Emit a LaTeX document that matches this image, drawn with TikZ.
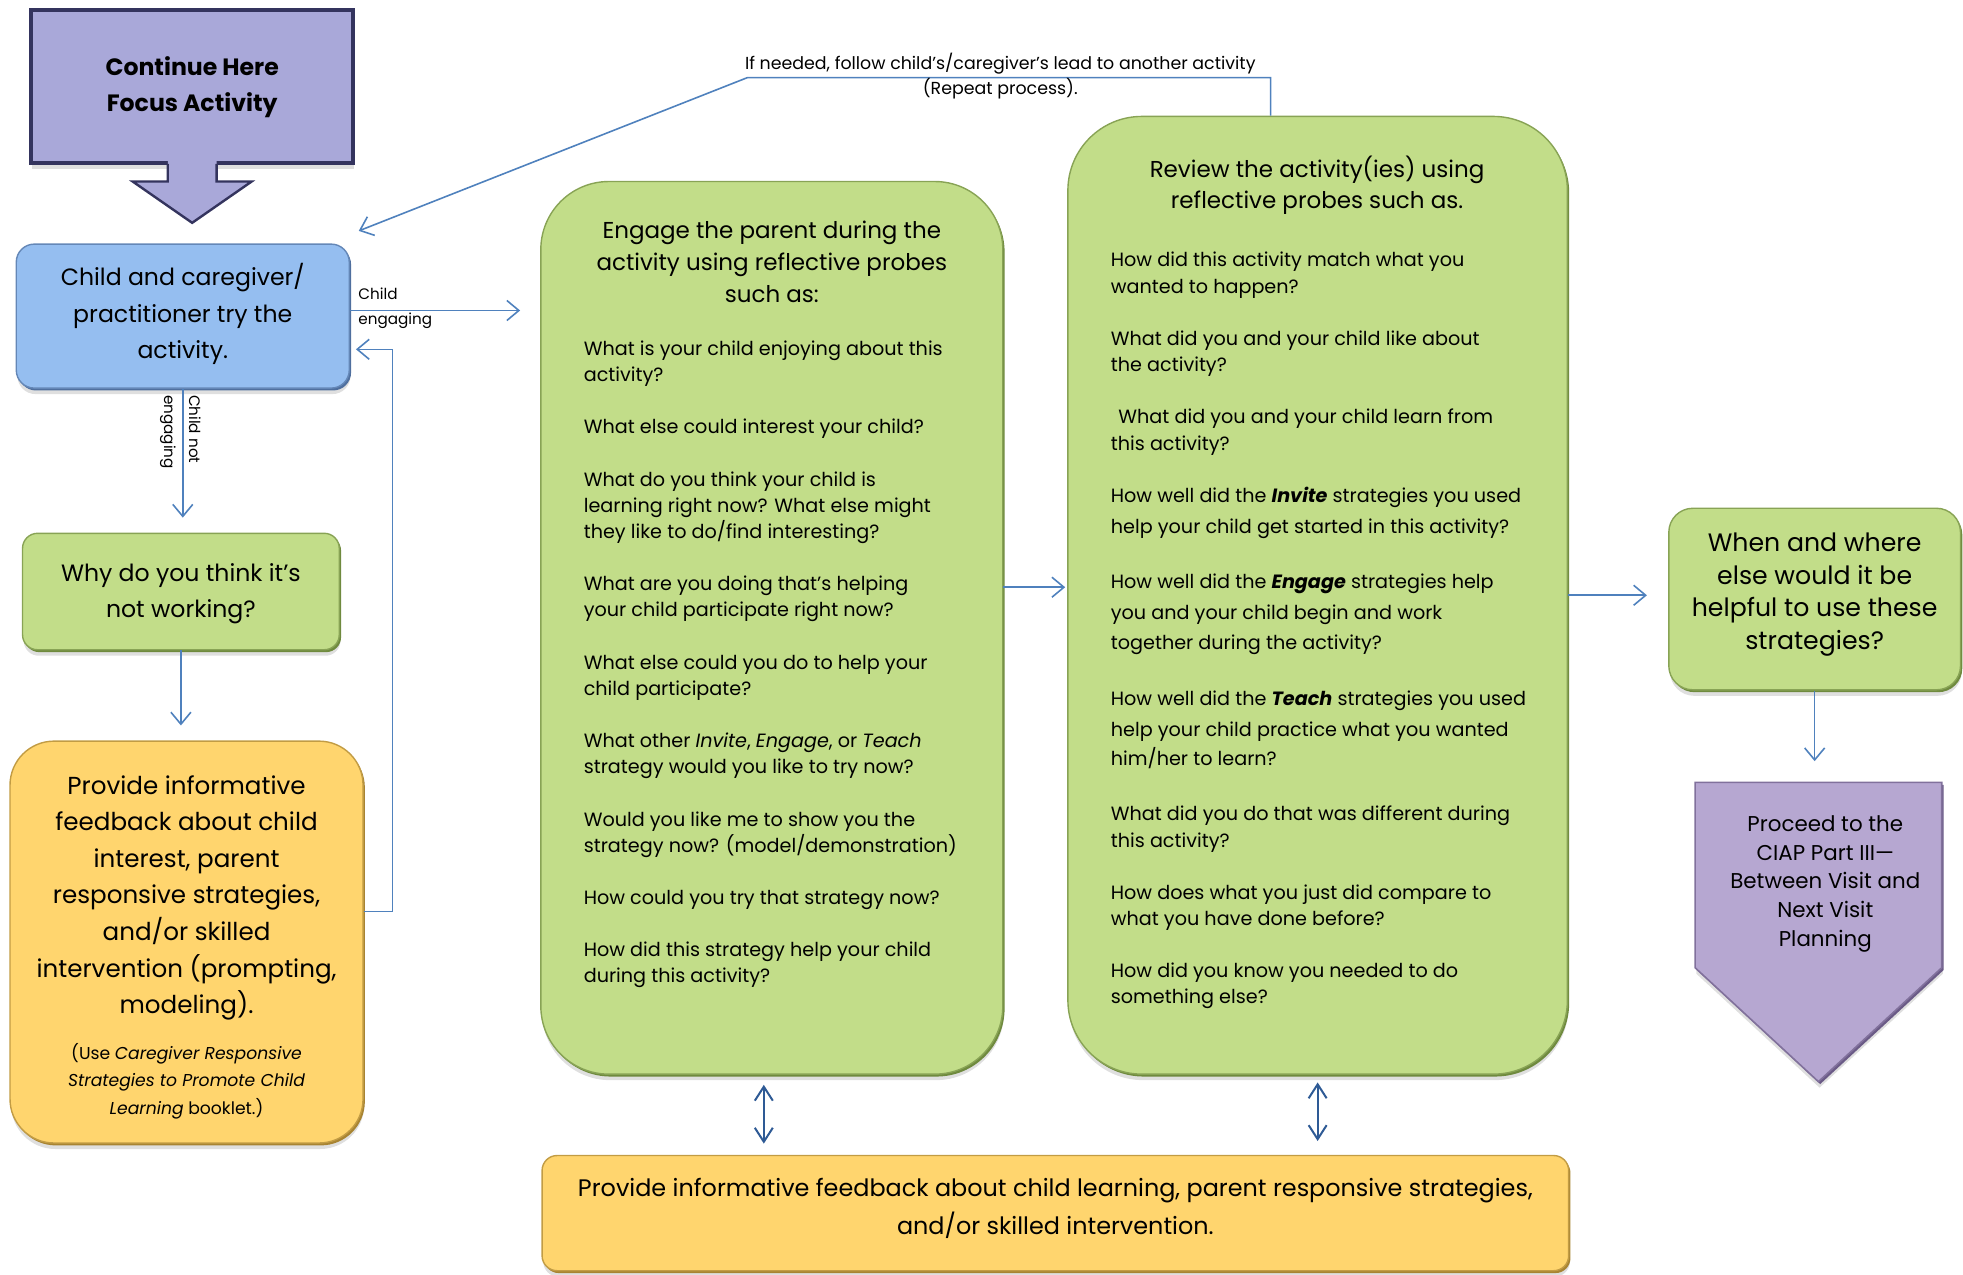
\documentclass[tikz,border=0pt]{standalone}
\usepackage{fontspec}
\setmainfont{Poppins}
\usetikzlibrary{arrows.meta,fit,shadows}

\definecolor{leaf}{HTML}{C2DD89}
\definecolor{leafrim}{HTML}{6F8A3E}
\definecolor{sky}{HTML}{95BEF0}
\definecolor{skyrim}{HTML}{4F6F9E}
\definecolor{sun}{HTML}{FFD56E}
\definecolor{sunrim}{HTML}{A88432}
\definecolor{lilac}{HTML}{A9A8D9}
\definecolor{lilacrim}{HTML}{34345E}
\definecolor{mauve}{HTML}{B6A7D1}
\definecolor{mauverim}{HTML}{6A5A86}
\definecolor{flow}{HTML}{4F81BD}
\definecolor{flowdark}{HTML}{2E5A95}

\tikzset{
	panel/.style={inner sep=0pt, line width=0.7pt,
		drop shadow={shadow xshift=0.6pt, shadow yshift=-3pt, opacity=0.25},
		general shadow={fill=#1, shadow xshift=0.9pt, shadow yshift=-1.2pt}},
	greenpanel/.style={panel=leafrim, fill=leaf, draw=leafrim!70!leaf},
	bluepanel/.style={panel=skyrim, fill=sky, draw=skyrim!70!sky},
	sunpanel/.style={panel=sunrim, fill=sun, draw=sunrim!70!sun},
	boxtext/.style={inner sep=0pt, align=center},
	flowline/.style={draw=flow, line width=0.8pt, -{Straight Barb[length=6pt,width=10pt]}},
	twoway/.style={draw=flowdark, line width=1pt,
		{Straight Barb[length=7pt,width=9pt]}-{Straight Barb[length=7pt,width=9pt]}},
	probe/.style={anchor=north west, inner sep=0pt, align=left, font=\fontsize{9.6}{13.07}\selectfont},
	probehead/.style={anchor=north, inner sep=0pt, align=center, font=\fontsize{11.5}{16}\selectfont},
	smalllabel/.style={inner sep=0pt, align=left, font=\fontsize{7.6}{12.5}\selectfont},
}

\begin{document}
\begin{tikzpicture}[x=0.626pt, y=-0.626pt]
		%%%%% START %%%%%
		\useasboundingbox (0,0) rectangle (1568,1018);
		
		% focus activity box and its block arrow
		\node[panel=lilacrim, fill=lilac, draw=lilacrim, line width=2pt, fit={(25,8) (282,130)}] (focus) {};
		\node[boxtext, font=\bfseries\fontsize{11.8}{18}\selectfont] (focustxt) at ([yshift=-0.6pt]focus.center) {Continue Here\\Focus Activity};
		\fill[lilac] (134,124) -- (134,145) -- (106,145) -- (153.5,178) -- (201,145) -- (173,145) -- (173,124) -- cycle;
		\draw[lilacrim, line width=1.2pt] (134,131) -- (134,145) -- (106,145) -- (153.5,178) -- (201,145) -- (173,145) -- (173,131);
		
		% left column
		\node[bluepanel, fit={(13,195) (279,310)}, rounded corners=9pt] (try) {};
		\node[boxtext, font=\fontsize{11.8}{18.2}\selectfont] (trytxt) at ([yshift=0.9pt]try.center) {Child and caregiver/\\practitioner try the\\activity.};
		\node[greenpanel, fit={(18,426) (271,519)}, rounded corners=7.5pt] (why) {};
		\node[boxtext, font=\fontsize{11.8}{18.2}\selectfont] (whytxt) at ([yshift=-1.2pt]why.center) {Why do you think it's\\not working?};
		\node[sunpanel, fit={(8,592) (290,913)}, rounded corners=22pt] (feedback) {};
		\node[boxtext, anchor=north, font=\fontsize{12.3}{18.3}\selectfont]
			(feedbacktxt) at (149,619) {Provide informative\\feedback about child\\interest, parent\\responsive strategies,\\and/or skilled\\intervention (prompting,\\modeling).};
		\node[boxtext, anchor=north, font=\fontsize{8.6}{13.8}\selectfont]
			(feedbacknote) at (149,833) {(Use \textit{Caregiver Responsive}\\\textit{Strategies to Promote Child}\\\textit{Learning} booklet.)};
		
		% engage box
		\node[greenpanel, fit={(432,145) (801,858)}, rounded corners=34pt] (engage) {};
		\node[probehead] (engagehead) at (616.5,176) {Engage the parent during the\\activity using reflective probes\\such as:};
		\node[probe] (engagelist) at (466,272) {What is your child enjoying about this\\
			activity?\\[13.07pt]
			What else could interest your child?\\[13.07pt]
			What do you think your child is\\
			learning right now? What else might\\
			they like to do/find interesting?\\[13.07pt]
			What are you doing that's helping\\
			your child participate right now?\\[13.07pt]
			What else could you do to help your\\
			child participate?\\[13.07pt]
			What other \textit{Invite}, \textit{Engage}, or \textit{Teach}\\
			strategy would you like to try now?\\[13.07pt]
			Would you like me to show you the\\
			strategy now? (model/demonstration)\\[13.07pt]
			How could you try that strategy now?\\[13.07pt]
			How did this strategy help your child\\
			during this activity?};
		
		% review box
		\node[greenpanel, fit={(853,93) (1252,858)}, rounded corners=37pt] (review) {};
		\node[probehead, font=\fontsize{11.5}{15.7}\selectfont] (reviewhead) at (1052,124) {Review the activity(ies) using\\reflective probes such as.};
		\node[probe, font=\fontsize{9.6}{13.27}\selectfont] (reviewlist) at (887,201) {How did this activity match what you\\
			wanted to happen?\\[12.7pt]
			What did you and your child like about\\
			the activity?\\[12.7pt]
			\hspace*{3.8pt}What did you and your child learn from\\
			this activity?\\[13.1pt]
			How well did the \textbf{\textit{Invite}} strategies you used\\[1.9pt]
			help your child get started in this activity?\\[14.6pt]
			How well did the \textbf{\textit{Engage}} strategies help\\[1.9pt]
			you and your child begin and work\\[1.9pt]
			together during the activity?\\[14.6pt]
			How well did the \textbf{\textit{Teach}} strategies you used\\[2.3pt]
			help your child practice what you wanted\\[1.1pt]
			him/her to learn?\\[14.6pt]
			What did you do that was different during\\
			this activity?\\[12.5pt]
			How does what you just did compare to\\
			what you have done before?\\[12.5pt]
			How did you know you needed to do\\
			something else?};
		
		% right column
		\node[greenpanel, fit={(1333,406) (1566,551)}, rounded corners=12pt] (elsewhere) {};
		\node[boxtext, font=\fontsize{12.6}{16.3}\selectfont] (elsewheretxt) at ([yshift=2.2pt]elsewhere.center) {When and where\\else would it be\\helpful to use these\\strategies?};
		\draw[fill=mauve, draw=mauverim!70!mauve, line width=0.8pt,
			drop shadow={shadow xshift=0.6pt, shadow yshift=-3pt, opacity=0.25},
			general shadow={fill=mauverim, shadow xshift=0.9pt, shadow yshift=-1.2pt}]
			(1354,625) -- (1551,625) -- (1551,773) -- (1452.5,864) -- (1354,773) -- cycle;
		\node[boxtext, anchor=north, font=\fontsize{10.7}{14.4}\selectfont]
			(proceed) at (1458,651) {Proceed to the\\CIAP Part III---\\Between Visit and\\Next Visit\\Planning};
		\coordinate (proceedtop) at (1450,608);
		
		% bottom feedback bar
		\node[sunpanel, fit={(433,923) (1253,1015)}, rounded corners=7.5pt] (summary) {};
		\node[boxtext, font=\fontsize{11.95}{18.8}\selectfont] (summarytxt) at ([yshift=2.5pt]summary.center) {Provide informative feedback about child learning, parent responsive strategies,\\and/or skilled intervention.};
		
		% connectors
		\draw[flowline, shorten >=7.5pt] (try.south) -- (try.south |- why.north);
		\node[smalllabel, rotate=-90] (notengaging) at (144,345) {Child not\\engaging};
		\draw[flowline, shorten >=7.5pt] (why.south) -- (why.south |- feedback.north);
		
		\draw[flowline, shorten >=10pt] ([yshift=2.8pt]try.east) -- ([yshift=2.8pt]try.east -| engage.west);
		\node[smalllabel, anchor=west] (engaging) at (286,246) {Child\\engaging};
		\draw[flowline, shorten >=3pt] ([yshift=15.3pt]feedback.east) -- ++(23,0) |- ([yshift=-16.6pt]try.east);
		
		\coordinate (lead) at (597,62);
		\draw[flowline] ([xshift=-23.5pt]review.north) |- (lead) -- ([shift={(7,-10)}]try.north east);
		\node[inner sep=0pt, align=center, font=\fontsize{8.7}{12.5}\selectfont] (leadtxt) at (799,61)
			{If needed, follow child's/caregiver's lead to another activity\\(Repeat process).};
		
		\draw[flowline, shorten >=1pt] ([yshift=20.3pt]engage.east) -- ([yshift=20.3pt]engage.east -| review.west);
		\draw[flowline, shorten >=10.6pt] (review.east) -- (review.east -| elsewhere.west);
		\draw[flowline] (elsewhere.south) -- (elsewhere.south |- proceedtop);
		
		\draw[twoway, shorten <=5pt, shorten >=5.6pt] ([xshift=-4pt]engage.south) -- ([xshift=-4pt]engage.south |- summary.north);
		\draw[twoway, shorten <=3.8pt, shorten >=6.9pt] (review.south) -- (review.south |- summary.north);
		%%%%% END %%%%%
\end{tikzpicture}
\end{document}
